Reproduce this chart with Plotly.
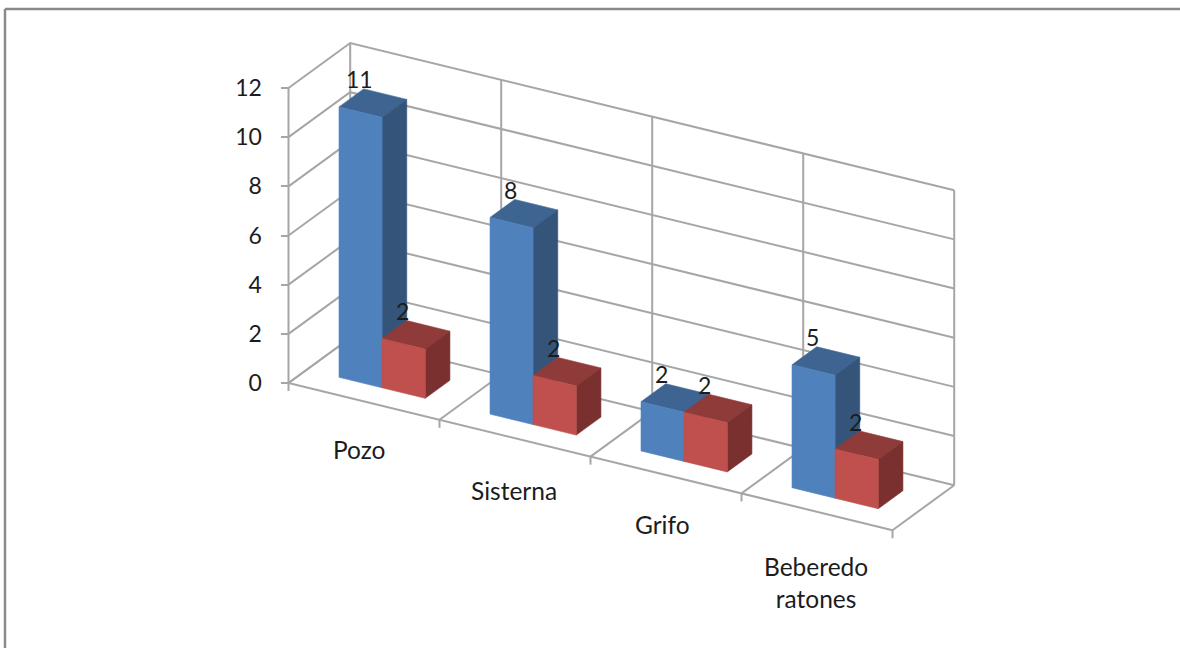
import plotly.graph_objects as go

# Chart data
categorias = ["Pozo", "Sisterna", "Grifo", "Beberedo<br>ratones"]
serie_azul = [11, 8, 2, 5]
serie_roja = [2, 2, 2, 2]
valores_eje = [0, 2, 4, 6, 8, 10, 12]

# Canvas and oblique projection
ANCHO, ALTO = 1180, 648
ORIGEN_X, ORIGEN_Y = 288.5, 383.0   # pixel position of category 0, value 0, depth 0
PX_CATEGORIA = 151.0
PX_VALOR = 24.583
CAIDA_CATEGORIA = 36.8              # px the floor drops per category
FONDO_X, FONDO_Y = 61.7, 45.0       # px offset from front of floor to back wall
VALOR_MAX = 12

# Bar footprint inside each category slot
BARRA_INI, BARRA_MED, BARRA_FIN = 0.212, 0.497, 0.783
PROF_INI, PROF_FIN = 0.30, 0.70

COLOR_REJILLA = "#a6a6a6"
COLOR_MARCO = "#8a8a8a"
COLOR_TEXTO = "#1c1c1c"
FUENTE = "Lato"
TAM_CATEGORIA = 24.5
TAM_NUMERO = 23
ANCHO_REJILLA = 2

AZUL = {"frente": "#4f81bd", "tapa": "#3e6592", "lado": "#345479"}
ROJO = {"frente": "#c0504d", "tapa": "#8f3b39", "lado": "#79302e"}


def proyectar(cat, valor, prof):
    """Map (category, value, depth) onto the 2D axes of the figure."""
    return (
        cat + prof * FONDO_X / PX_CATEGORIA,
        valor + (prof * FONDO_Y - cat * CAIDA_CATEGORIA) / PX_VALOR,
    )


def poligono(puntos, color):
    xs, ys = zip(*[proyectar(*p) for p in puntos + puntos[:1]])
    return go.Scatter(
        x=xs, y=ys, mode="lines", fill="toself", fillcolor=color,
        line=dict(color=color, width=0.6), hoverinfo="skip", showlegend=False,
    )


def linea(puntos, color=COLOR_REJILLA, ancho=ANCHO_REJILLA):
    xs, ys = zip(*[proyectar(*p) for p in puntos])
    return go.Scatter(
        x=xs, y=ys, mode="lines", line=dict(color=color, width=ancho),
        hoverinfo="skip", showlegend=False,
    )


def barra(ini, fin, valor, colores):
    return [
        poligono([(ini, valor, PROF_INI), (fin, valor, PROF_INI),
                  (fin, valor, PROF_FIN), (ini, valor, PROF_FIN)], colores["tapa"]),
        poligono([(fin, 0, PROF_INI), (fin, valor, PROF_INI),
                  (fin, valor, PROF_FIN), (fin, 0, PROF_FIN)], colores["lado"]),
        poligono([(ini, 0, PROF_INI), (fin, 0, PROF_INI),
                  (fin, valor, PROF_INI), (ini, valor, PROF_INI)], colores["frente"]),
    ]


n = len(categorias)
trazas = []

# Side wall and back wall gridlines
for v in valores_eje:
    trazas.append(linea([(0, v, 0), (0, v, 1), (n, v, 1)]))
trazas.append(linea([(0, 0, 0), (0, VALOR_MAX, 0)]))
for c in range(n + 1):
    trazas.append(linea([(c, 0, 1), (c, VALOR_MAX, 1)]))

# Floor: front edge, category dividers and category ticks
trazas.append(linea([(0, 0, 0), (n, 0, 0)]))
for c in range(n + 1):
    trazas.append(linea([(c, 0, 0), (c, 0, 1)]))
    x, y = proyectar(c, 0, 0)
    trazas.append(go.Scatter(
        x=[x, x], y=[y, y - 8 / PX_VALOR], mode="lines",
        line=dict(color=COLOR_REJILLA, width=ANCHO_REJILLA),
        hoverinfo="skip", showlegend=False,
    ))

# Bars
for c in range(n):
    trazas += barra(c + BARRA_INI, c + BARRA_MED, serie_azul[c], AZUL)
    trazas += barra(c + BARRA_MED, c + BARRA_FIN, serie_roja[c], ROJO)

fig = go.Figure(trazas)

anotaciones = []

# Value labels sit above the back-left corner of each bar top
for c in range(n):
    for ini, valor in ((BARRA_INI, serie_azul[c]), (BARRA_MED, serie_roja[c])):
        x, y = proyectar(c + ini, valor, PROF_FIN)
        anotaciones.append(dict(
            x=x, y=y, text=str(valor), showarrow=False,
            font=dict(size=TAM_NUMERO),
            xanchor="center", yanchor="middle", xshift=-4, yshift=9.5,
        ))

# Category labels hang below the front edge of the floor
ajuste_x = [-5, -1, -4, -1]
ajuste_y = [32, 36, 33, 38]
for c, texto in enumerate(categorias):
    x, y = proyectar(c + 0.5, 0, 0)
    anotaciones.append(dict(
        x=x, y=y, text=texto, showarrow=False,
        xanchor="center", yanchor="top",
        xshift=ajuste_x[c], yshift=-ajuste_y[c],
    ))

fig.update_layout(
    width=ANCHO, height=ALTO,
    margin=dict(l=0, r=0, t=0, b=0),
    paper_bgcolor="white", plot_bgcolor="white",
    font=dict(family=FUENTE, size=TAM_CATEGORIA, color=COLOR_TEXTO),
    showlegend=False,
    annotations=anotaciones,
    xaxis=dict(
        range=[-ORIGEN_X / PX_CATEGORIA, (ANCHO - ORIGEN_X) / PX_CATEGORIA],
        visible=False, fixedrange=True,
    ),
    yaxis=dict(
        range=[(ORIGEN_Y - ALTO) / PX_VALOR, ORIGEN_Y / PX_VALOR],
        anchor="free", position=ORIGEN_X / ANCHO, side="left",
        tickmode="array", tickvals=valores_eje, ticktext=[str(v) for v in valores_eje],
        ticks="outside", ticklen=8, tickwidth=ANCHO_REJILLA, tickcolor=COLOR_REJILLA,
        showgrid=False, zeroline=False, showline=False, fixedrange=True,
        tickfont=dict(family=FUENTE, size=TAM_NUMERO, color=COLOR_TEXTO),
        ticklabelstandoff=14,
    ),
    shapes=[
        # Outer chart frame, cut off by the right and bottom of the canvas
        dict(type="line", xref="paper", yref="paper",
             x0=5 / ANCHO, x1=1, y0=1 - 9 / ALTO, y1=1 - 9 / ALTO,
             line=dict(color=COLOR_MARCO, width=2.5)),
        dict(type="line", xref="paper", yref="paper",
             x0=5 / ANCHO, x1=5 / ANCHO, y0=0, y1=1 - 9 / ALTO,
             line=dict(color=COLOR_MARCO, width=2.5)),
    ],
)

fig.write_html("out.html", config={"displayModeBar": False})
